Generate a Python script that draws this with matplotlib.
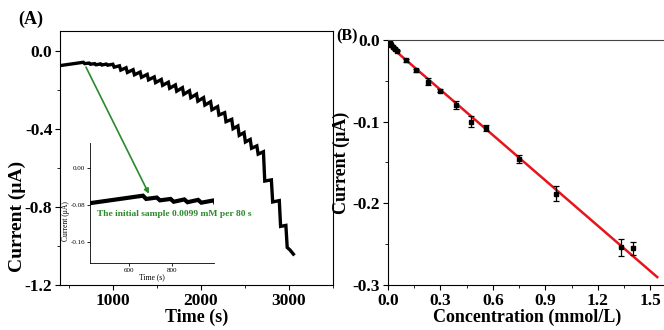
import numpy as np
import matplotlib
matplotlib.use("Agg")
import matplotlib.pyplot as plt
from matplotlib.ticker import MultipleLocator

plt.rcParams['font.family'] = ['Liberation Serif', 'DejaVu Serif']
plt.rcParams['font.weight'] = 'bold'
plt.rcParams['axes.unicode_minus'] = False

# --- Panel A: amperometric response (step additions) ---
start_t, start_i = 400, -0.077
step_t = [665, 730, 795, 860, 925, 1000, 1075, 1150, 1230, 1310, 1390, 1470,
          1550, 1630, 1710, 1790, 1870, 1950, 2030, 2110, 2190, 2270, 2350,
          2420, 2490, 2560, 2635, 2710, 2800, 2890, 2965]
step_top = [-0.060, -0.064, -0.067, -0.068, -0.069, -0.070, -0.078, -0.088,
            -0.098, -0.110, -0.122, -0.135, -0.148, -0.162, -0.176, -0.190,
            -0.206, -0.223, -0.241, -0.262, -0.287, -0.318, -0.352, -0.386,
            -0.420, -0.455, -0.488, -0.518, -0.662, -0.768, -0.895]
step_bot = [-0.067, -0.070, -0.073, -0.074, -0.075, -0.085, -0.100, -0.112,
            -0.124, -0.137, -0.150, -0.164, -0.178, -0.193, -0.208, -0.224,
            -0.241, -0.259, -0.279, -0.303, -0.330, -0.364, -0.400, -0.434,
            -0.468, -0.500, -0.530, -0.668, -0.775, -0.900, -1.008]
tail_t = [3010, 3050]
tail_i = [-1.020, -1.042]

# --- Panel B: calibration points ---
conc = [0.0099, 0.0198, 0.0297, 0.0396, 0.0495, 0.104, 0.162, 0.227, 0.300,
        0.387, 0.477, 0.563, 0.748, 0.960, 1.331, 1.402]
current = [-0.003, -0.006, -0.008, -0.011, -0.013, -0.025, -0.037, -0.051,
           -0.062, -0.080, -0.100, -0.108, -0.146, -0.188, -0.254, -0.255]
current_err = [0.001, 0.001, 0.001, 0.001, 0.001, 0.002, 0.002, 0.004, 0.002,
               0.005, 0.007, 0.004, 0.005, 0.009, 0.010, 0.008]
fit_range = [0.0, 1.54]

# build the trace: quick drop at each addition, slow recovery until the next one
drop_time = 15
trace_t = [start_t]
trace_i = [start_i]
for t, top, bot in zip(step_t, step_top, step_bot):
    trace_t += [t, t + drop_time]
    trace_i += [top, bot]
trace_t += tail_t
trace_i += tail_i

fig = plt.figure(figsize=(6.64, 3.30), dpi=100)

# Panel A main axes
ax = fig.add_axes([0.0904, 0.1364, 0.4111, 0.7696])
ax.plot(trace_t, trace_i, color='black', linewidth=2.4, solid_joinstyle='miter')
ax.set_xlim(400, 3500)
ax.set_ylim(-1.2, 0.1)
ax.xaxis.set_major_locator(MultipleLocator(1000))
ax.xaxis.set_minor_locator(MultipleLocator(500))
ax.yaxis.set_minor_locator(MultipleLocator(0.2))
ax.set_yticks([0.0, -0.4, -0.8, -1.2])
ax.set_yticklabels(["0.0", "-0.4", "-0.8", "-1.2"])
ax.tick_params(which='both', direction='out', labelsize=12.5, pad=2)
ax.tick_params(which='major', length=3.5)
ax.tick_params(which='minor', length=2.5)
ax.set_xlabel("Time (s)", fontsize=13, fontweight='bold', labelpad=0)
ax.set_ylabel("Current (\u03bcA)", fontsize=14, fontweight='bold')
ax.yaxis.set_label_coords(-0.125, 0.27)

# Inset
ax_in = fig.add_axes([0.1355, 0.2021, 0.1868, 0.3646])
ax_in.plot(trace_t, trace_i, color='black', linewidth=3.0, solid_joinstyle='miter')
ax_in.set_xlim(415, 1000)
ax_in.set_ylim(-0.205, 0.053)
ax_in.set_xticks([600, 800])
ax_in.set_yticks([0.00, -0.08, -0.16])
ax_in.set_yticklabels(["0.00", "-0.08", "-0.16"])
ax_in.spines['top'].set_visible(False)
ax_in.spines['right'].set_visible(False)
for s in ax_in.spines.values():
    s.set_linewidth(0.6)
ax_in.tick_params(direction='out', labelsize=5, length=2, width=0.6, pad=1.5)
for lab in ax_in.get_xticklabels() + ax_in.get_yticklabels():
    lab.set_fontweight('normal')
ax_in.set_xlabel("Time (s)", fontsize=5.5, fontweight='normal', labelpad=0)
ax_in.set_ylabel("Current (\u03bcA)", fontsize=5.5, fontweight='normal')
ax_in.yaxis.set_label_coords(-0.16, 0.35)
ax_in.patch.set_alpha(0)

ax_in.annotate("", xy=(693, -0.056), xycoords='data',
               xytext=(695, -0.085), textcoords=ax.transData,
               arrowprops=dict(arrowstyle='-|>', color='#2a8a2a', lw=1.2,
                               mutation_scale=7, shrinkA=0, shrinkB=0),
               annotation_clip=False)
ax_in.text(450, -0.100, "The initial sample 0.0099 mM per 80 s", color='#2a8a2a',
           fontsize=6.8, fontweight='bold', va='center', ha='left', clip_on=False)

fig.text(0.047, 0.94, "(A)", fontsize=13, fontweight='bold', ha='center', va='center')

# Panel B calibration
bx = fig.add_axes([0.5843, 0.1364, 0.4187, 0.7424])
slope, intercept = np.polyfit(conc, current, 1)
bx.plot(fit_range, [slope * x + intercept for x in fit_range], color='#e8141b',
        linewidth=1.8, zorder=1)
bx.errorbar(conc, current, yerr=current_err, fmt='s', color='black',
            markersize=3.5, capsize=2, elinewidth=0.9, capthick=0.9, zorder=2)
bx.set_xlim(0, 1.59)
bx.set_ylim(-0.3, 0.0)
bx.xaxis.set_minor_locator(MultipleLocator(0.15))
bx.yaxis.set_minor_locator(MultipleLocator(0.05))
bx.set_xticks([0.0, 0.3, 0.6, 0.9, 1.2, 1.5])
bx.set_xticklabels(["0.0", "0.3", "0.6", "0.9", "1.2", "1.5"])
bx.set_yticks([0.0, -0.1, -0.2, -0.3])
bx.set_yticklabels(["0.0", "-0.1", "-0.2", "-0.3"])
bx.tick_params(which='both', direction='out', labelsize=12.5, pad=2)
bx.tick_params(which='major', length=3.5)
bx.tick_params(which='minor', length=2.5)
bx.spines['right'].set_visible(False)
bx.spines['top'].set_color('#444444')
bx.set_xlabel("Concentration (mmol/L)", fontsize=13, fontweight='bold', labelpad=0)
bx.set_ylabel("Current (\u03bcA)", fontsize=13, fontweight='bold')
bx.yaxis.set_label_coords(-0.135, 0.5)

fig.text(0.5226, 0.891, "(B)", fontsize=11.5, fontweight='bold', ha='center', va='center')

fig.savefig("out.png", dpi=100)
